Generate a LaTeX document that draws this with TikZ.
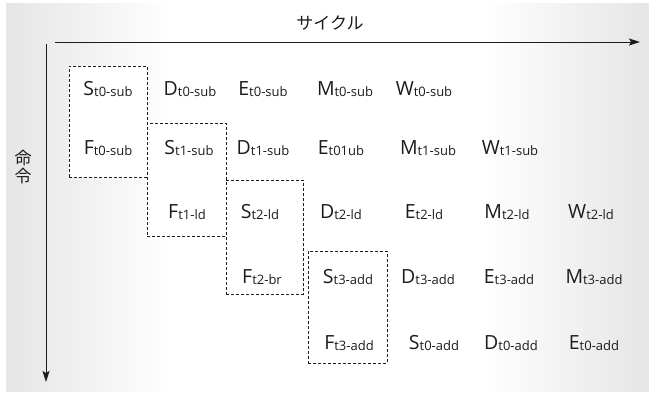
\documentclass[tikz,border=0pt]{standalone}
\usepackage{fontspec}
\setmainfont{Open Sans}
\newfontfamily\jpfont{Noto Sans CJK JP}
\usetikzlibrary{arrows.meta}
\definecolor{bgedge}{RGB}{168,169,172}
\definecolor{bgA}{RGB}{200,201,203}
\definecolor{bgB}{RGB}{220,220,221}
\definecolor{bgC}{RGB}{239,239,239}
\definecolor{ink}{RGB}{30,27,28}
\pgfdeclarehorizontalshading{bgshade}{100bp}{color(0bp)=(bgedge); color(10bp)=(bgA); color(20bp)=(bgB); color(30bp)=(bgC); color(38bp)=(white); color(62bp)=(white); color(70bp)=(bgC); color(80bp)=(bgB); color(90bp)=(bgA); color(100bp)=(bgedge)}
\newcommand{\stg}[2]{#1\raisebox{-1.3pt}{\fontsize{13}{13}\selectfont #2}}
\begin{document}
\begin{tikzpicture}[x=1pt,y=-1pt,
  lab/.style={inner sep=0pt, anchor=base, text=ink, font=\fontsize{19.5}{19.5}\selectfont},
  stagebox/.style={draw=ink, fill=white, dash pattern=on 3pt off 2pt, line width=0.8pt, inner sep=0pt},
  axis/.style={draw=ink, line width=1pt, -{Stealth[length=11pt,width=7pt,inset=2pt]}},
  jp/.style={inner sep=0pt, text=ink, font=\jpfont\fontsize{17}{19}\selectfont}]
\useasboundingbox (0,0) rectangle (649,394);
\shade[shading=bgshade] (6,3) rectangle (649,391);

% axes
\coordinate (hstart) at (55,42);
\coordinate (hend) at (640,42);
\coordinate (vstart) at (46,44);
\coordinate (vend) at (46,382);
\draw[axis] (hstart) -- (hend);
\draw[axis] (vstart) -- (vend);
\node[jp] (cyc) at (330,23) {サイクル};
\node[jp, align=center] (inst) at (23,167.5) {命\\[-1pt]令};

% dashed boxes
\node[stagebox, minimum width=78pt, minimum height=111pt] (b1) at (108,121.5) {};
\node[stagebox, minimum width=79pt, minimum height=113pt] (b2) at (186.5,179.5) {};
\node[stagebox, minimum width=77pt, minimum height=114pt] (b3) at (264.5,237) {};
\node[stagebox, minimum width=79pt, minimum height=112pt] (b4) at (347.5,307) {};

% row 1
\node[lab] (s0) at (108,95) {\stg{S}{t0-sub}};
\node[lab] (d0) at (190,95) {\stg{D}{t0-sub}};
\node[lab] (e0) at (263,95) {\stg{E}{t0-sub}};
\node[lab] (m0) at (345,95) {\stg{M}{t0-sub}};
\node[lab] (w0) at (424,95) {\stg{W}{t0-sub}};
% row 2
\node[lab] (f0) at (108,154) {\stg{F}{t0-sub}};
\node[lab] (s1) at (189,154) {\stg{S}{t1-sub}};
\node[lab] (d1) at (263,154) {\stg{D}{t1-sub}};
\node[lab] (e1) at (341,154) {\stg{E}{t01ub}};
\node[lab] (m1) at (428,154) {\stg{M}{t1-sub}};
\node[lab] (w1) at (510,154) {\stg{W}{t1-sub}};
% row 3
\node[lab] (f1) at (187,218.5) {\stg{F}{t1-ld}};
\node[lab] (s2) at (260,218.5) {\stg{S}{t2-ld}};
\node[lab] (d2) at (341,218.5) {\stg{D}{t2-ld}};
\node[lab] (e2) at (424,218.5) {\stg{E}{t2-ld}};
\node[lab] (m2) at (507,218.5) {\stg{M}{t2-ld}};
\node[lab] (w2) at (591,218.5) {\stg{W}{t2-ld}};
% row 4
\node[lab] (f2) at (262,283) {\stg{F}{t2-br}};
\node[lab] (s3) at (348,283) {\stg{S}{t3-add}};
\node[lab] (d3) at (428,283) {\stg{D}{t3-add}};
\node[lab] (e3) at (509,283) {\stg{E}{t3-add}};
\node[lab] (m3) at (594,283) {\stg{M}{t3-add}};
% row 5
\node[lab] (f3) at (349,349.5) {\stg{F}{t3-add}};
\node[lab] (s4) at (434,349.5) {\stg{S}{t0-add}};
\node[lab] (d4) at (511,349.5) {\stg{D}{t0-add}};
\node[lab] (e4) at (594,349.5) {\stg{E}{t0-add}};
\end{tikzpicture}
\end{document}
